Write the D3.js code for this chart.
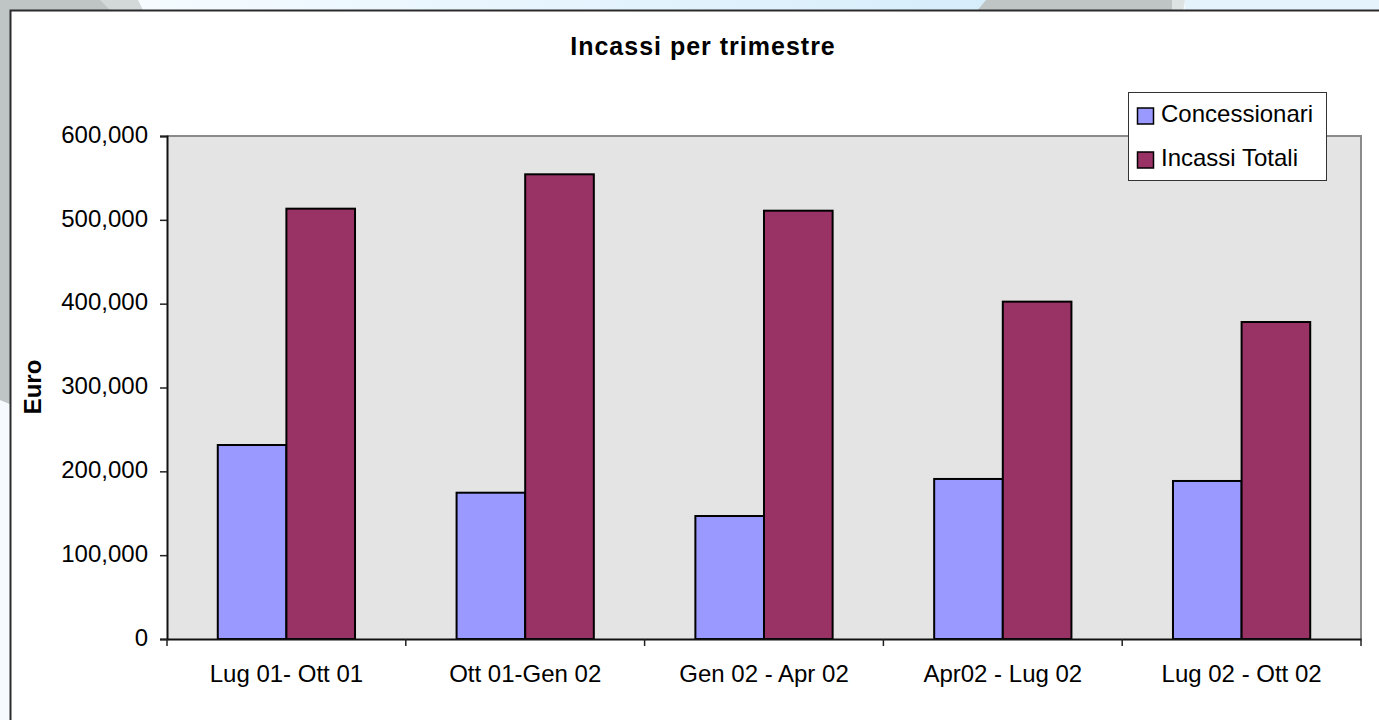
<!DOCTYPE html>
<html>
<head>
<meta charset="utf-8">
<script src="https://cdn.jsdelivr.net/npm/d3@7"></script>
<style>
  html, body { margin: 0; padding: 0; background: #fff; }
  svg { display: block; }
  text { font-family: "Liberation Sans", Arial, sans-serif; fill: #000; }
</style>
</head>
<body>
<div id="chart"></div>
<script>
// data
const categories = ['Lug 01- Ott 01', 'Ott 01-Gen 02', 'Gen 02 - Apr 02', 'Apr02 - Lug 02', 'Lug 02 - Ott 02'];
const seriesNames = ['Concessionari', 'Incassi Totali'];
const concessionari = [231400, 174500, 146700, 190900, 188500];
const incassiTotali = [513300, 554300, 510900, 402400, 378100];
const yTicks = [0, 100000, 200000, 300000, 400000, 500000, 600000];
const colors = ['#9999ff', '#993366'];

const width = 1379, height = 720;
const plot = {left: 167, right: 1361, top: 136, bottom: 639};

const svg = d3.select('#chart').append('svg')
  .attr('width', width)
  .attr('height', height);

// slide background behind the chart box
const grad = svg.append('defs').append('linearGradient')
  .attr('id', 'sky').attr('x1', 0).attr('x2', 1).attr('y1', 0).attr('y2', 0);
grad.append('stop').attr('offset', '0%').attr('stop-color', '#f5fbff');
grad.append('stop').attr('offset', '100%').attr('stop-color', '#d6edfb');

svg.append('rect').attr('width', width).attr('height', height).attr('fill', '#f6faff');
svg.append('rect').attr('x', 140).attr('y', 0).attr('width', 850).attr('height', 12).attr('fill', 'url(#sky)');
svg.append('polygon').attr('points', '0,0 104,0 118,12 0,12').attr('fill', '#bfc4c4');
svg.append('polygon').attr('points', '100,0 138,0 144,12 112,12').attr('fill', '#d3d9d9');
svg.append('polygon').attr('points', '0,0 12,0 12,405 0,400').attr('fill', '#bfc4c4');
svg.append('polygon').attr('points', '986,0 1172,0 1172,12 976,12').attr('fill', '#bfc4c4');
svg.append('polygon').attr('points', '1172,0 1185,0 1183,12 1172,12').attr('fill', '#dde3e3');
svg.append('rect').attr('x', 1185).attr('y', 0).attr('width', 194).attr('height', 12).attr('fill', '#e4f3fc');

// chart box
svg.append('rect')
  .attr('x', 10.5).attr('y', 10.5)
  .attr('width', 1400).attr('height', 740)
  .attr('fill', '#fff')
  .attr('stroke', '#2b2b2b')
  .attr('stroke-width', 2);

const xScale = d3.scaleBand().domain(categories).range([plot.left, plot.right]).padding(0);
const xInner = d3.scaleBand().domain(seriesNames).range([0, xScale.bandwidth()]).paddingInner(0).paddingOuter(0.74);
const yScale = d3.scaleLinear().domain([0, 600000]).range([plot.bottom, plot.top]);

// plot area
svg.append('rect')
  .attr('x', plot.left).attr('y', plot.top)
  .attr('width', plot.right - plot.left).attr('height', plot.bottom - plot.top)
  .attr('fill', '#e4e4e4');
svg.append('path')
  .attr('d', `M${plot.left},${plot.top}H${plot.right}V${plot.bottom}`)
  .attr('fill', 'none')
  .attr('stroke', '#8a8a8a')
  .attr('stroke-width', 2);

// bars
const rows = categories.map((c, i) => ({cat: c, values: [concessionari[i], incassiTotali[i]]}));
const groups = svg.selectAll('.grp')
  .data(rows)
  .enter()
  .append('g')
  .attr('class', 'grp')
  .attr('transform', d => `translate(${xScale(d.cat)},0)`);

groups.selectAll('rect')
  .data(d => d.values.map((v, j) => ({name: seriesNames[j], value: v, j: j})))
  .enter()
  .append('rect')
  .attr('x', d => xInner(d.name))
  .attr('y', d => yScale(d.value))
  .attr('width', xInner.bandwidth())
  .attr('height', d => yScale(0) - yScale(d.value))
  .attr('fill', d => colors[d.j])
  .attr('stroke', '#000')
  .attr('stroke-width', 2);

// axes
const yAxis = d3.axisLeft(yScale).tickValues(yTicks).tickFormat(d3.format(',')).tickSize(7).tickPadding(12);
const gy = svg.append('g')
  .attr('transform', `translate(${plot.left},0)`)
  .call(yAxis);
gy.select('.domain').attr('stroke', '#111').attr('stroke-width', 2);
gy.selectAll('.tick line').attr('stroke', '#222').attr('stroke-width', 1.5);
gy.selectAll('.tick text')
  .attr('font-size', 24)
  .attr('font-family', '"Liberation Sans", Arial, sans-serif')
  .attr('dy', '0.26em');

const xAxis = d3.axisBottom(xScale).tickSize(0).tickPadding(26);
const gx = svg.append('g')
  .attr('transform', `translate(0,${plot.bottom})`)
  .call(xAxis);
gx.select('.domain').attr('stroke', '#111').attr('stroke-width', 2);
gx.selectAll('.tick text')
  .attr('font-size', 24)
  .attr('font-family', '"Liberation Sans", Arial, sans-serif');

// x ticks sit on the band boundaries
const bounds = categories.map(c => xScale(c)).concat([plot.right]);
gx.selectAll('.bound')
  .data(bounds)
  .enter()
  .append('line')
  .attr('class', 'bound')
  .attr('x1', d => d).attr('x2', d => d)
  .attr('y1', 0).attr('y2', 7)
  .attr('stroke', '#222')
  .attr('stroke-width', 1.5);

// title
svg.append('text')
  .attr('x', 703)
  .attr('y', 55)
  .attr('text-anchor', 'middle')
  .attr('font-size', 25)
  .attr('font-weight', 'bold')
  .attr('letter-spacing', 1)
  .text('Incassi per trimestre');

// y axis title
svg.append('text')
  .attr('transform', 'translate(41,387) rotate(-90)')
  .attr('text-anchor', 'middle')
  .attr('font-size', 24)
  .attr('font-weight', 'bold')
  .text('Euro');

// legend
const legend = svg.append('g');
legend.append('rect')
  .attr('x', 1128.5).attr('y', 92.5)
  .attr('width', 198).attr('height', 88)
  .attr('fill', '#fff')
  .attr('stroke', '#333')
  .attr('stroke-width', 1);

const items = legend.selectAll('.item')
  .data(seriesNames)
  .enter()
  .append('g')
  .attr('class', 'item')
  .attr('transform', (d, i) => `translate(0,${i * 44})`);

items.append('rect')
  .attr('x', 1137.5).attr('y', 108)
  .attr('width', 16).attr('height', 16)
  .attr('fill', (d, i) => colors[i])
  .attr('stroke', '#000')
  .attr('stroke-width', 1.5);

items.append('text')
  .attr('x', 1161)
  .attr('y', 122)
  .attr('font-size', 24)
  .text(d => d);
</script>
</body>
</html>
